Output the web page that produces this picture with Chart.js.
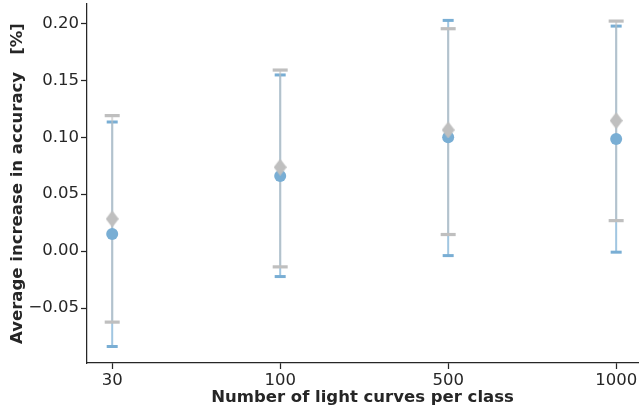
<!DOCTYPE html>
<html>
<head>
<meta charset="utf-8">
<script src="https://cdn.jsdelivr.net/npm/chart.js@4"></script>
<style>
  html, body { margin: 0; padding: 0; background: #ffffff; }
  #wrap { width: 639px; height: 411px; }
</style>
</head>
<body>
<div id="wrap"><canvas id="c" width="639" height="411"></canvas></div>
<script>
// ---- data ----
const categories = ["30", "100", "500", "1000"];
const yTicks = [-0.05, 0.00, 0.05, 0.10, 0.15, 0.20];

const blueMean = [0.015, 0.066, 0.100, 0.0985];
const blueLow  = [-0.0837, -0.0223, -0.0039, -0.0009];
const blueHigh = [0.1134, 0.1547, 0.2026, 0.1976];

const grayMean = [0.0283, 0.0737, 0.1064, 0.1146];
const grayLow  = [-0.0623, -0.0138, 0.0146, 0.0268];
const grayHigh = [0.119, 0.159, 0.1953, 0.202];

// ---- helpers ----
const BLUE = '#79aed4';
const GRAY = '#bfbfbf';
const INK = '#262626';

function pts(vals) { return vals.map((v, i) => ({x: i, y: v})); }
function caps(lo, hi) {
  const out = [];
  lo.forEach((v, i) => { out.push({x: i, y: v}); out.push({x: i, y: hi[i]}); });
  return out;
}
function segs(lo, hi) {
  const out = [];
  lo.forEach((v, i) => { out.push({x: i, y: v}); out.push({x: i, y: hi[i]}); out.push({x: i, y: null}); });
  return out;
}
const noPad = () => ({left: 0, top: 0, right: 0, bottom: 0});

// thin diamond marker
const dia = document.createElement('canvas');
dia.width = 13; dia.height = 17;
(function(){
  const g = dia.getContext('2d');
  g.fillStyle = GRAY;
  g.beginPath();
  g.moveTo(6.5, 0); g.lineTo(13, 8.5); g.lineTo(6.5, 17); g.lineTo(0, 8.5);
  g.closePath(); g.fill();
})();

const FONT = "'DejaVu Sans', sans-serif";

new Chart(document.getElementById('c'), {
  type: 'scatter',
  data: {
    datasets: [
      { label: 'gray mean', data: pts(grayMean), pointStyle: dia, pointRadius: 8, pointHoverRadius: 8, order: 0 },
      { label: 'blue mean', data: pts(blueMean), pointStyle: 'circle', pointRadius: 6, pointHoverRadius: 6,
        backgroundColor: BLUE, borderColor: BLUE, borderWidth: 0, order: 1 },
      { label: 'gray caps', data: caps(grayLow, grayHigh), pointStyle: 'line', pointRadius: 7.5, pointHoverRadius: 7.5,
        borderColor: GRAY, backgroundColor: GRAY, pointBorderWidth: 3.2, order: 2 },
      { label: 'gray bars', data: segs(grayLow, grayHigh), showLine: true, spanGaps: false, pointRadius: 0,
        borderColor: 'rgba(191,191,191,0.6)', borderWidth: 2, order: 3 },
      { label: 'blue caps', data: caps(blueLow, blueHigh), pointStyle: 'line', pointRadius: 5.5, pointHoverRadius: 5.5,
        borderColor: BLUE, backgroundColor: BLUE, pointBorderWidth: 3, order: 4 },
      { label: 'blue bars', data: segs(blueLow, blueHigh), showLine: true, spanGaps: false, pointRadius: 0,
        borderColor: 'rgba(121,174,212,0.7)', borderWidth: 2, order: 5 }
    ]
  },
  options: {
    responsive: false,
    animation: false,
    devicePixelRatio: 1,
    layout: { autoPadding: false, padding: { top: 4, right: 1, left: 0, bottom: 0 } },
    plugins: { legend: { display: false }, tooltip: { enabled: false } },
    scales: {
      x: {
        type: 'linear',
        min: -0.15, max: 3.13,
        afterBuildTicks: s => { s.ticks = categories.map((c, i) => ({value: i})); },
        afterFit: s => { s.height = 48; s.paddingLeft = 0; s.paddingRight = 0; s.getPadding = noPad; },
        ticks: {
          callback: v => categories[v],
          color: INK, font: { family: FONT, size: 16.5 }, padding: 2, maxRotation: 0, autoSkip: false
        },
        grid: { drawOnChartArea: false, drawTicks: true, tickLength: 6, tickColor: INK, tickWidth: 1.25 },
        border: { color: INK, width: 1.25 },
        title: {
          display: true, text: 'Number of light curves per class', color: INK,
          font: { family: FONT, size: 16.5, weight: 'bold' }, padding: { top: 0, bottom: 3.5 }
        }
      },
      y: {
        type: 'linear',
        min: -0.0982, max: 0.217,
        afterBuildTicks: s => { s.ticks = yTicks.map(v => ({value: v})); },
        afterFit: s => { s.width = 87; s.paddingTop = 0; s.paddingBottom = 0; s.getPadding = noPad; },
        ticks: {
          callback: v => v.toFixed(2).replace('-', '\u2212'),
          color: INK, font: { family: FONT, size: 16.5 }, padding: 2
        },
        grid: { drawOnChartArea: false, drawTicks: true, tickLength: 6, tickColor: INK, tickWidth: 1.25 },
        border: { color: INK, width: 1.25 },
        title: {
          display: true, text: 'Average increase in accuracy   [%]', color: INK,
          font: { family: FONT, size: 16.5, weight: 'bold' }, padding: { top: 7.5, bottom: 0 }
        }
      }
    }
  }
});
</script>
</body>
</html>
